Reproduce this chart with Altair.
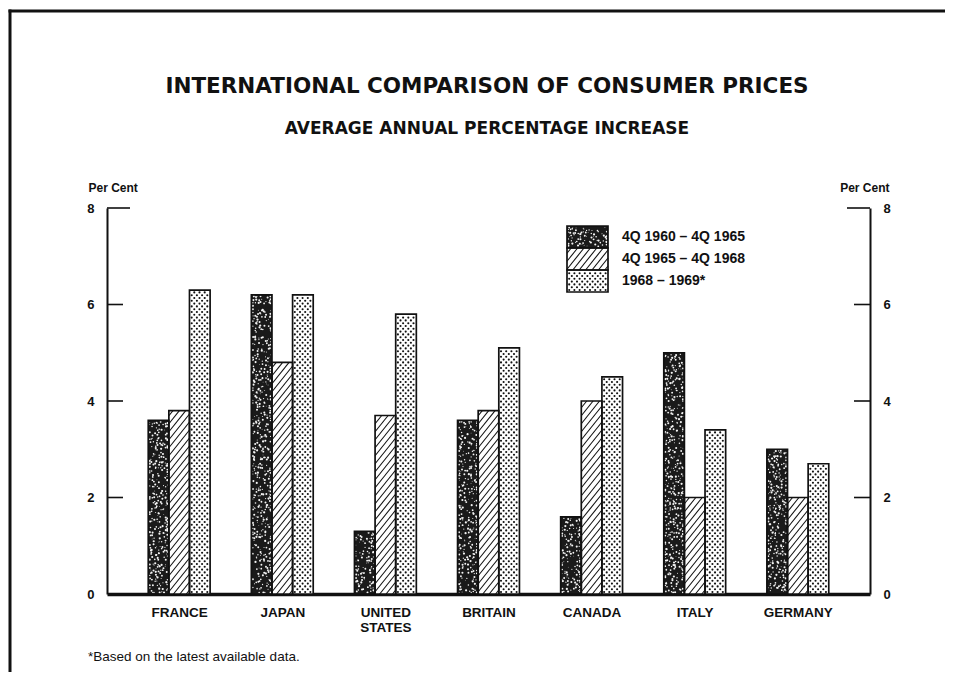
import json
import altair as alt
import pandas as pd

# ---------------- data ----------------
countries = ["FRANCE", "JAPAN", "UNITED STATES", "BRITAIN", "CANADA", "ITALY", "GERMANY"]
series_names = ["4Q 1960 – 4Q 1965", "4Q 1965 – 4Q 1968", "1968 – 1969*"]
rise_1960_65 = [3.6, 6.2, 1.3, 3.6, 1.6, 5.0, 3.0]
rise_1965_68 = [3.8, 4.8, 3.7, 3.8, 4.0, 2.0, 2.0]
rise_1968_69 = [6.3, 6.2, 5.8, 5.1, 4.5, 3.4, 2.7]
y_ticks = [0, 2, 4, 6, 8]

chart_title = "INTERNATIONAL COMPARISON OF CONSUMER PRICES"
chart_subtitle = "AVERAGE ANNUAL PERCENTAGE INCREASE"
footnote = "*Based on the latest available data."
axis_title = "Per Cent"

# ---------------- layout ----------------
W, H = 763, 386
XMIN, XMAX = -0.7, 6.7
YMAX = 8
SX = W / (XMAX - XMIN)
SY = H / YMAX


def to_dx(px):
    return XMIN + px / SX


def to_dy(py):
    return YMAX - py / SY


def px_x(v):
    return (v - XMIN) * SX


def px_y(v):
    return (YMAX - v) * SY


def hsh(a, b, c):
    v = (a * 73856093) ^ (b * 19349663) ^ (c * 83492791)
    return (v % 10007) / 10007.0


values = [rise_1960_65, rise_1965_68, rise_1968_69]
rects = []
for j, vals in enumerate(values):
    for i, v in enumerate(vals):
        x0 = i - 0.3 + 0.2 * j
        rects.append((j, px_x(x0), px_x(x0 + 0.2), px_y(v), px_y(0)))
# legend swatches (pixel layout)
LX0, LX1, LY0, ROW = 460, 501, 18, 22
for j in range(3):
    rects.append((j, LX0, LX1, LY0 + j * ROW, LY0 + (j + 1) * ROW))

rect_rows, speck, dots, hatch = [], [], [], []
for k, (j, a, b, top, bot) in enumerate(rects):
    rect_rows.append(dict(series=series_names[j], x0=to_dx(a), x1=to_dx(b),
                          y0=to_dy(bot), y1=to_dy(top)))
    if j == 0:
        step = 2.6
        nx = int((b - a - 2) / step) + 1
        ny = int((bot - top - 2) / step) + 1
        for r in range(ny):
            for c in range(nx):
                h1, h2, h3 = hsh(k + 1, r, c), hsh(k + 101, r, c), hsh(k + 211, r, c)
                if h3 < 0.45:
                    continue
                px = min(max(a + 1.5 + c * step + (h1 - 0.5) * step, a + 1.5), b - 1.5)
                py = min(max(top + 1.5 + r * step + (h2 - 0.5) * step, top + 1.5), bot - 1.5)
                speck.append(dict(x=to_dx(px), y=to_dy(py), s=0.6 + (h3 - 0.45) * 8))
    elif j == 1:
        k_slope, sp = 1.25, 8.0
        Wb, Hb = b - a, bot - top
        c = -k_slope * Wb + sp / 2
        while c < Hb:
            ua = max(0.0, -c / k_slope)
            ub = min(Wb, (Hb - c) / k_slope)
            if ub - ua > 0.3:
                hatch.append(dict(x=to_dx(a + ua), y=to_dy(bot - (k_slope * ua + c)),
                                  xb=to_dx(a + ub), yb=to_dy(bot - (k_slope * ub + c))))
            c += sp
    else:
        dxs, dys = 5.2, 2.8
        r = 0
        py = bot - 2.0
        while py > top + 1.5:
            px = a + 2.2 + (dxs / 2 if r % 2 else 0)
            while px < b - 1.5:
                dots.append(dict(x=to_dx(px), y=to_dy(py)))
                px += dxs
            py -= dys
            r += 1

rect_df = pd.DataFrame(rect_rows)
speck_df = pd.DataFrame(speck)
hatch_df = pd.DataFrame(hatch)
dots_df = pd.DataFrame(dots)

tick_rows = []
for v in y_ticks[1:]:
    ln = 23 if v == max(y_ticks) else 16
    tick_rows.append(dict(y=v, x=XMIN, xb=to_dx(ln)))
    tick_rows.append(dict(y=v, x=to_dx(W - ln), xb=XMAX))
tick_df = pd.DataFrame(tick_rows)

legend_df = pd.DataFrame(dict(label=series_names,
                              x=[to_dx(515)] * 3,
                              y=[to_dy(LY0 + ROW * (j + 0.5)) for j in range(3)]))

XS = alt.Scale(domain=[XMIN, XMAX], nice=False, zero=False)
YS = alt.Scale(domain=[0, YMAX], nice=False, zero=False)
INK = "#111111"
FONT = "Liberation Sans"

label_expr = json.dumps([c.split(" ") if " " in c else c for c in countries]) + "[datum.value]"

x_axis = alt.Axis(values=list(range(len(countries))), labelExpr=label_expr, ticks=False,
                  tickSize=0, domainWidth=3.5, domainColor=INK, labelPadding=11,
                  labelFontSize=13.5, labelFontWeight="bold", labelLineHeight=15,
                  labelFlush=False, labelOverlap=False, labelAngle=0, title=None,
                  grid=False, labelColor=INK, labelFont=FONT)


def y_axis(orient):
    return alt.Axis(orient=orient, values=y_ticks, ticks=False, tickSize=0, domainWidth=2,
                    domainColor=INK, labelPadding=13, labelFontSize=13,
                    labelFontWeight="bold", labelColor=INK, labelFont=FONT, grid=False,
                    title=axis_title, titleAngle=0,
                    titleAlign="left" if orient == "left" else "right",
                    titleBaseline="middle", titleX=-19 if orient == "left" else 19,
                    titleY=-21, titleFontSize=12, titleFontWeight="bold",
                    titleColor=INK, titleFont=FONT, titlePadding=0)


fill_layer = alt.Chart(rect_df).mark_rect(strokeWidth=0).encode(
    x=alt.X("x0:Q", scale=XS, axis=x_axis),
    x2="x1:Q",
    y=alt.Y("y0:Q", scale=YS, axis=y_axis("left")),
    y2="y1:Q",
    fill=alt.Fill("series:N", scale=alt.Scale(domain=series_names,
                                              range=["#1a1a1a", "#ffffff", "#ffffff"]),
                  legend=None),
)

speck_layer = alt.Chart(speck_df).mark_circle(color="#f4f4f4", opacity=1).encode(
    x=alt.X("x:Q", scale=XS, axis=None),
    y=alt.Y("y:Q", scale=YS, axis=None),
    size=alt.Size("s:Q", scale=None, legend=None),
)

hatch_layer = alt.Chart(hatch_df).mark_rule(color=INK, strokeWidth=1.1).encode(
    x=alt.X("x:Q", scale=XS, axis=None), x2="xb:Q",
    y=alt.Y("y:Q", scale=YS, axis=None), y2="yb:Q",
)

dots_layer = alt.Chart(dots_df).mark_circle(color=INK, opacity=1, size=4.5).encode(
    x=alt.X("x:Q", scale=XS, axis=None),
    y=alt.Y("y:Q", scale=YS, axis=None),
)

outline_layer = alt.Chart(rect_df).mark_rect(fillOpacity=0, stroke=INK, strokeWidth=1.7).encode(
    x=alt.X("x0:Q", scale=XS, axis=None),
    x2="x1:Q",
    y=alt.Y("y0:Q", scale=YS, axis=y_axis("right")),
    y2="y1:Q",
)

tick_layer = alt.Chart(tick_df).mark_rule(color=INK, strokeWidth=1.6).encode(
    x=alt.X("x:Q", scale=XS, axis=None), x2="xb:Q",
    y=alt.Y("y:Q", scale=YS, axis=None),
)

legend_text = alt.Chart(legend_df).mark_text(
    align="left", baseline="middle", font=FONT, fontWeight="bold", fontSize=14, color=INK
).encode(
    x=alt.X("x:Q", scale=XS, axis=None),
    y=alt.Y("y:Q", scale=YS, axis=None),
    text="label:N",
)

one = pd.DataFrame({"t": [chart_title], "s": [chart_subtitle], "f": [footnote]})

title_layer = alt.Chart(one).mark_text(
    align="center", baseline="middle", font="DejaVu Sans", fontWeight="bold",
    fontSize=21.5, color=INK
).encode(text="t:N", x=alt.value(380), y=alt.value(86.5 - 208))

subtitle_layer = alt.Chart(one).mark_text(
    align="center", baseline="middle", font="DejaVu Sans", fontWeight="bold",
    fontSize=17, color=INK
).encode(text="s:N", x=alt.value(380), y=alt.value(129 - 208))

foot_layer = alt.Chart(one).mark_text(
    align="left", baseline="middle", font=FONT, fontSize=13.5, color=INK
).encode(text="f:N", x=alt.value(-19), y=alt.value(449))

border_left = alt.Chart(one).mark_rule(color=INK, strokeWidth=3).encode(
    x=alt.value(-97), y=alt.value(-198.5), y2=alt.value(480))
border_top = alt.Chart(one).mark_rule(color=INK, strokeWidth=3).encode(
    x=alt.value(-98.5), x2=alt.value(840), y=alt.value(-197))

chart = alt.layer(
    fill_layer, speck_layer, hatch_layer, dots_layer, outline_layer, tick_layer,
    legend_text, title_layer, subtitle_layer, foot_layer, border_left, border_top,
).resolve_axis(x="independent", y="independent").properties(
    width=W, height=H,
    autosize=alt.AutoSizeParams(type="none"),
    padding={"left": 99, "top": 200, "right": 75, "bottom": 78},
    background="white",
).configure_view(stroke=None)

chart.save("out.html", embed_options={"renderer": "svg", "actions": False})
